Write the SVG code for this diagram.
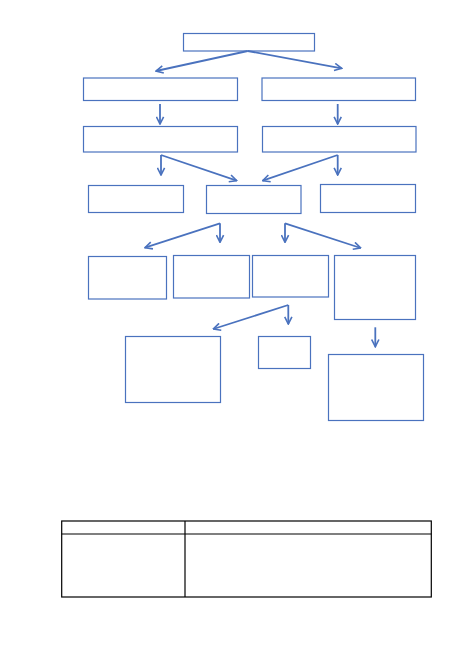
<svg xmlns="http://www.w3.org/2000/svg" width="459" height="650" viewBox="0 0 459 650">
<style>
.n rect{fill:#fff;stroke:#4a72be;stroke-width:1.2}
.c path{fill:none;stroke:#4a72be;stroke-width:1.8;marker-end:url(#ah)}
.t{fill:none;stroke:#000;stroke-width:1.2}
</style>
<defs>
<marker id="ah" viewBox="0 0 10 10" refX="9" refY="5" markerWidth="5" markerHeight="5" orient="auto" markerUnits="strokeWidth">
<path d="M1,1 L9,5 L1,9" fill="none" stroke="#4a72be" stroke-width="1.8"/>
</marker>
</defs>
<rect width="459" height="650" fill="#fff"/>
<g id="n1" class="n"><rect x="183.5" y="33.5" width="131" height="17.5"/></g>
<g id="n2" class="n"><rect x="83.5" y="78" width="154" height="22.5"/></g>
<g id="n3" class="n"><rect x="262" y="78" width="153.5" height="22.5"/></g>
<g id="n4" class="n"><rect x="83.5" y="126.5" width="154" height="25.5"/></g>
<g id="n5" class="n"><rect x="262.5" y="126.5" width="153.5" height="25.5"/></g>
<g id="n6" class="n"><rect x="88.5" y="185.5" width="95" height="27"/></g>
<g id="n7" class="n"><rect x="206.5" y="185.5" width="94.5" height="28"/></g>
<g id="n8" class="n"><rect x="320.5" y="184.5" width="95" height="28"/></g>
<g id="n9" class="n"><rect x="88.5" y="256.5" width="78" height="42.5"/></g>
<g id="n10" class="n"><rect x="173.5" y="255.5" width="76" height="42.5"/></g>
<g id="n11" class="n"><rect x="252.5" y="255.5" width="76" height="41.5"/></g>
<g id="n12" class="n"><rect x="334.5" y="255.5" width="81" height="64"/></g>
<g id="n13" class="n"><rect x="125.5" y="336.5" width="95" height="66"/></g>
<g id="n14" class="n"><rect x="258.5" y="336.5" width="52" height="32"/></g>
<g id="n15" class="n"><rect x="328.5" y="354.5" width="95" height="66"/></g>
<g id="connectors" class="c">
<path d="M247.7,51 L156,71"/>
<path d="M247.7,51 L341.7,68.3"/>
<path d="M160,104 L160,124"/>
<path d="M337.7,104 L337.7,124"/>
<path d="M161,155 L161,175"/>
<path d="M161,155 L236.7,180.7"/>
<path d="M337.7,155 L337.7,175"/>
<path d="M337.7,155 L262.7,180.7"/>
<path d="M220,223.3 L145,247.7"/>
<path d="M220,223.3 L220,242.3"/>
<path d="M285,223.3 L285,242.3"/>
<path d="M285,223.3 L360.7,248"/>
<path d="M288.3,305 L213.3,329"/>
<path d="M288.3,305 L288.3,324"/>
<path d="M375.3,327.3 L375.3,346.7"/>
</g>
<g id="table">
<rect class="t" x="61.7" y="521" width="369.6" height="76"/>
<line class="t" x1="61.7" y1="534" x2="431.3" y2="534"/>
<line class="t" x1="185" y1="521" x2="185" y2="597"/>
</g>
</svg>
